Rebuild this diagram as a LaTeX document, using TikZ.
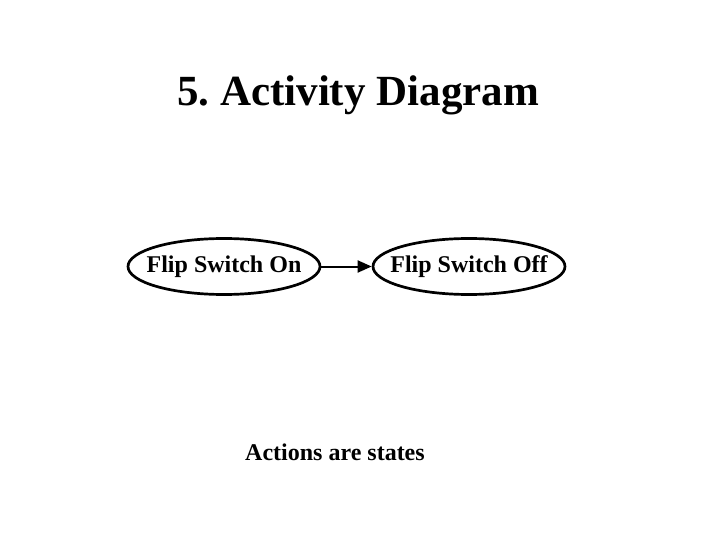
\documentclass[tikz,border=0pt]{standalone}
\usepackage{fontspec}
\setmainfont{Liberation Serif}
\usetikzlibrary{shapes.geometric}
\usetikzlibrary{arrows.meta}

\begin{document}
\begin{tikzpicture}[x=1pt, y=-1pt,
    action/.style={ellipse, draw, line width=2.7pt, minimum width=192pt, minimum height=56pt, inner xsep=-11pt, inner ysep=0pt, font=\fontsize{24}{28}\selectfont\bfseries},
    flow/.style={-{Triangle[length=14pt,width=12pt]}, line width=2pt}]
                \useasboundingbox (0,0) rectangle (720,540);

                % Title
                \node (title) at (358,95) {\fontsize{43}{50}\selectfont\bfseries 5.\ Activity Diagram};

                % Actions
                \node[action] (on) at (224,266.5) {Flip Switch On};
                \node[action] (off) at (469,266.5) {Flip Switch Off};
                \draw[flow] (on) -- (off);

                % Caption
                \node (note) at (335,452) {\fontsize{24}{28}\selectfont\bfseries Actions are states};
            \end{tikzpicture}
\end{document}
